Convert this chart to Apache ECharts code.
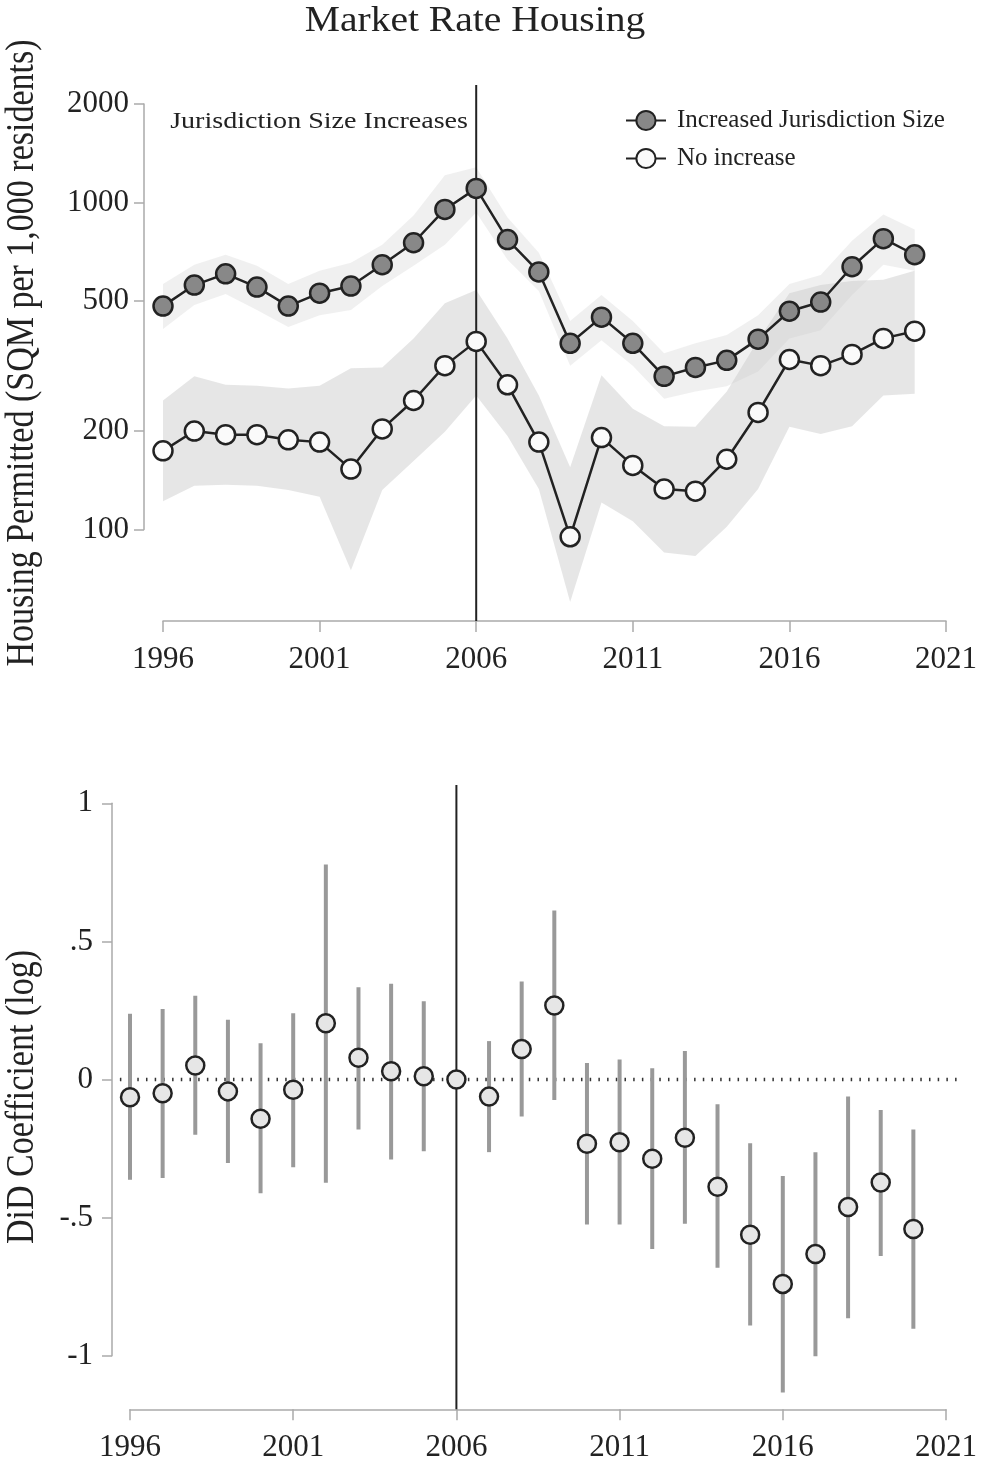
<!DOCTYPE html>
<html>
<head>
<meta charset="utf-8">
<script src="https://cdn.jsdelivr.net/npm/echarts@6/dist/echarts.min.js"></script>
<style>
html,body{margin:0;padding:0;background:#fff;}
#chart{width:983px;height:1467px;}
</style>
</head>
<body>
<div id="chart"></div>
<script>
// ---------------- data ----------------
const YEARS = [1996,1997,1998,1999,2000,2001,2002,2003,2004,2005,2006,2007,2008,2009,2010,2011,2012,2013,2014,2015,2016,2017,2018,2019,2020];
const X_TICKS = [1996,2001,2006,2011,2016,2021];
const TOP_Y_TICKS = [100,200,500,1000,2000];
const BOTTOM_Y_TICKS = [-1,-0.5,0,0.5,1];
const EVENT_YEAR = 2006;

// Top panel: housing permitted (SQM per 1,000 residents)
const incMean  = [482,559,605,551,482,528,555,645,753,952,1104,770,613,371,446,371,294,313,329,382,465,496,636,775,692];
const incUpper = [563,645,692,640,563,618,654,743,912,1211,1281,899,702,434,521,434,346,371,393,452,563,600,764,919,826];
const incLower = [410,486,525,469,416,452,469,555,640,743,932,668,536,317,379,317,251,264,274,304,384,407,521,645,618];
const noMean   = [174,200,195,195,188,185,153,203,248,317,376,277,185,95,191,157,133,131,164,228,331,317,343,384,404];
const noUpper  = [248,294,277,275,270,275,311,313,384,492,540,384,257,155,296,234,207,206,264,379,528,559,575,580,618];
const noLower  = [122,136,137,136,132,126,75,132,162,199,257,193,133,60,121,106,85,83,102,133,206,196,207,257,260];

// Bottom panel: DiD coefficients (log) with confidence intervals
const didCoef  = [-0.064,-0.05,0.051,-0.043,-0.142,-0.037,0.204,0.079,0.03,0.012,0,-0.062,0.11,0.268,-0.233,-0.227,-0.287,-0.211,-0.388,-0.562,-0.74,-0.632,-0.462,-0.373,-0.541];
const didHigh  = [0.238,0.255,0.303,0.216,0.131,0.24,0.778,0.334,0.347,0.283,0,0.139,0.355,0.612,0.06,0.072,0.041,0.103,-0.09,-0.231,-0.349,-0.263,-0.062,-0.11,-0.181];
const didLow   = [-0.363,-0.357,-0.2,-0.302,-0.412,-0.318,-0.374,-0.181,-0.29,-0.26,0,-0.263,-0.134,-0.074,-0.525,-0.525,-0.614,-0.522,-0.682,-0.891,-1.133,-1.002,-0.864,-0.639,-0.902];

// extents of reference lines (in data units, beyond the axis range)
const TOP_VLINE = [1.72, 3.359];       // log10 units
const BOT_VLINE = [-1.194, 1.066];
const ZERO_LINE_X = [1995.69, 2021.52];

// ---------------- helpers ----------------
const FONT = '"Liberation Serif","Times New Roman",serif';
const lg = v => Math.log10(v);
const INK = '#222';
const AXIS_GRAY = '#aaaaaa';

function bandRender(upper, lower, fill) {
  return function (params, api) {
    const pts = [];
    for (let i = 0; i < YEARS.length; i++) pts.push(api.coord([YEARS[i], lg(upper[i])]));
    for (let i = YEARS.length - 1; i >= 0; i--) pts.push(api.coord([YEARS[i], lg(lower[i])]));
    return { type: 'polygon', shape: { points: pts }, style: { fill: fill } };
  };
}
function segRender(x0, y0, x1, y1, style) {
  return function (params, api) {
    const a = api.coord([x0, y0]), b = api.coord([x1, y1]);
    return { type: 'line', shape: { x1: a[0], y1: a[1], x2: b[0], y2: b[1] }, style: style };
  };
}

const chart = echarts.init(document.getElementById('chart'), null, { renderer: 'canvas' });

const axisLabelStyle = { fontFamily: FONT, fontSize: 31, color: INK };

const option = {
  backgroundColor: '#fff',
  animation: false,
  textStyle: { fontFamily: FONT },
  legend: {
    left: 620, top: 103, orient: 'vertical',
    itemWidth: 40, itemHeight: 24, itemGap: 13,
    data: ['Increased Jurisdiction Size', 'No increase'],
    textStyle: { fontFamily: FONT, fontSize: 25, color: INK, padding: [0, 0, 0, 6] },
    selectedMode: false
  },
  graphic: [
    { type: 'text', x: 475, y: 22, scaleX: 1.13, style: { text: 'Market Rate Housing', fontFamily: FONT, fontSize: 35, fill: INK, align: 'center', verticalAlign: 'middle' } },
    { type: 'text', x: 22, y: 353, rotation: Math.PI / 2, scaleY: 1.2, style: { text: 'Housing Permitted (SQM per 1,000 residents)', fontFamily: FONT, fontSize: 34, fill: INK, align: 'center', verticalAlign: 'middle' } },
    { type: 'text', x: 22, y: 1097, rotation: Math.PI / 2, scaleY: 1.2, style: { text: 'DiD Coefficient (log)', fontFamily: FONT, fontSize: 34, fill: INK, align: 'center', verticalAlign: 'middle' } },
    { type: 'text', x: 468, y: 122, scaleX: 1.17, style: { text: 'Jurisdiction Size Increases', fontFamily: FONT, fontSize: 24, fill: INK, align: 'right', verticalAlign: 'middle' } }
  ],
  grid: [
    { left: 163, right: 37, top: 104, bottom: 1467 - 529.5 },
    { left: 130, right: 37, top: 803.3, bottom: 1467 - 1355.7 }
  ],
  xAxis: [
    {
      gridIndex: 0, type: 'value', min: 1996, max: 2021, offset: 91.5,
      axisLine: { show: true, onZero: false, lineStyle: { color: AXIS_GRAY, width: 1.5 } },
      axisTick: { show: true, length: 11, customValues: X_TICKS, lineStyle: { color: AXIS_GRAY, width: 1.5 } },
      axisLabel: { customValues: X_TICKS, margin: 23, formatter: v => String(v), ...axisLabelStyle },
      splitLine: { show: false }
    },
    {
      gridIndex: 1, type: 'value', min: 1996, max: 2021, offset: 53.6,
      axisLine: { show: true, onZero: false, lineStyle: { color: AXIS_GRAY, width: 1.5 } },
      axisTick: { show: true, length: 11, customValues: X_TICKS, lineStyle: { color: AXIS_GRAY, width: 1.5 } },
      axisLabel: { customValues: X_TICKS, margin: 23, formatter: v => String(v), ...axisLabelStyle },
      splitLine: { show: false }
    }
  ],
  yAxis: [
    {
      gridIndex: 0, type: 'value', min: lg(100), max: lg(2000), offset: 19,
      axisLine: { show: true, onZero: false, lineStyle: { color: AXIS_GRAY, width: 1.5 } },
      axisTick: { show: true, length: 10, customValues: TOP_Y_TICKS.map(lg), lineStyle: { color: AXIS_GRAY, width: 1.5 } },
      axisLabel: { customValues: TOP_Y_TICKS.map(lg), margin: 15, formatter: v => String(Math.round(Math.pow(10, v))), ...axisLabelStyle },
      splitLine: { show: false }
    },
    {
      gridIndex: 1, type: 'value', min: -1, max: 1, interval: 0.5, offset: 18,
      axisLine: { show: true, onZero: false, lineStyle: { color: AXIS_GRAY, width: 1.5 } },
      axisTick: { show: true, length: 10, customValues: BOTTOM_Y_TICKS, lineStyle: { color: AXIS_GRAY, width: 1.5 } },
      axisLabel: {
        customValues: BOTTOM_Y_TICKS,
        margin: 19, ...axisLabelStyle,
        formatter: v => {
          if (Math.abs(v) < 1e-9) return '0';
          let s = String(Math.abs(v)).replace(/^0\./, '.');
          return (v < 0 ? '-' : '') + s;
        }
      },
      splitLine: { show: false }
    }
  ],
  series: [
    // --- top panel ---
    { type: 'custom', xAxisIndex: 0, yAxisIndex: 0, clip: false, silent: true, z: 1,
      data: [[YEARS[0], lg(incMean[0])]], renderItem: bandRender(incUpper, incLower, 'rgba(200,200,200,0.27)') },
    { type: 'custom', xAxisIndex: 0, yAxisIndex: 0, clip: false, silent: true, z: 1,
      data: [[YEARS[0], lg(noMean[0])]], renderItem: bandRender(noUpper, noLower, 'rgba(200,200,200,0.45)') },
    { type: 'custom', xAxisIndex: 0, yAxisIndex: 0, clip: false, silent: true, z: 2,
      data: [[EVENT_YEAR, TOP_VLINE[0]]],
      renderItem: segRender(EVENT_YEAR, TOP_VLINE[0], EVENT_YEAR, TOP_VLINE[1], { stroke: INK, lineWidth: 2 }) },
    { name: 'Increased Jurisdiction Size', type: 'line', xAxisIndex: 0, yAxisIndex: 0, clip: false, z: 3,
      data: YEARS.map((y, i) => [y, lg(incMean[i])]),
      symbol: 'circle', symbolSize: 19,
      lineStyle: { color: INK, width: 2.5 },
      itemStyle: { color: '#888888', borderColor: INK, borderWidth: 2.5 },
      emphasis: { disabled: true } },
    { name: 'No increase', type: 'line', xAxisIndex: 0, yAxisIndex: 0, clip: false, z: 3,
      data: YEARS.map((y, i) => [y, lg(noMean[i])]),
      symbol: 'circle', symbolSize: 19,
      lineStyle: { color: INK, width: 2.5 },
      itemStyle: { color: '#fafafa', borderColor: INK, borderWidth: 2.5 },
      emphasis: { disabled: true } },

    // --- bottom panel ---
    { type: 'custom', xAxisIndex: 1, yAxisIndex: 1, clip: false, silent: true, z: 1,
      data: [[ZERO_LINE_X[0], 0]],
      renderItem: segRender(ZERO_LINE_X[0], 0, ZERO_LINE_X[1], 0, { stroke: '#333', lineWidth: 3.5, lineDash: [1.5, 7.2] }) },
    { type: 'custom', xAxisIndex: 1, yAxisIndex: 1, clip: false, silent: true, z: 2,
      data: YEARS.map((y, i) => [y, didLow[i], didHigh[i]]),
      encode: { x: 0, y: [1, 2] },
      renderItem: function (params, api) {
        const x = api.value(0);
        const a = api.coord([x, api.value(1)]), b = api.coord([x, api.value(2)]);
        return { type: 'line', shape: { x1: a[0], y1: a[1], x2: b[0], y2: b[1] }, style: { stroke: '#999999', lineWidth: 4 } };
      } },
    { type: 'custom', xAxisIndex: 1, yAxisIndex: 1, clip: false, silent: true, z: 2,
      data: [[EVENT_YEAR, BOT_VLINE[0]]],
      renderItem: segRender(EVENT_YEAR, BOT_VLINE[0], EVENT_YEAR, BOT_VLINE[1], { stroke: INK, lineWidth: 2 }) },
    { type: 'scatter', xAxisIndex: 1, yAxisIndex: 1, clip: false, z: 3,
      data: YEARS.map((y, i) => [y, didCoef[i]]),
      symbol: 'circle', symbolSize: 18,
      itemStyle: { color: '#e6e6e6', borderColor: INK, borderWidth: 2.5, opacity: 1 },
      emphasis: { disabled: true } }
  ]
};
chart.setOption(option);
</script>
</body>
</html>
